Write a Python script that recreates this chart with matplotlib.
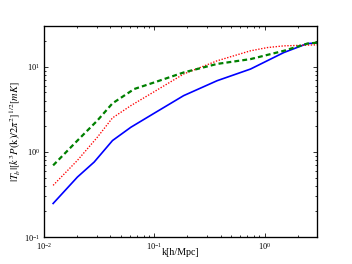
import matplotlib
matplotlib.use("Agg")
import matplotlib.pyplot as plt

plt.rcParams['font.family'] = ['Liberation Serif', 'DejaVu Serif']
plt.rcParams['mathtext.fontset'] = 'stix'

k_blue = [0.0121, 0.0201, 0.0285, 0.0418, 0.0614, 0.1, 0.1846, 0.3715, 0.746, 1.497, 2.44, 3.01]
v_blue = [0.248, 0.507, 0.760, 1.36, 1.95, 2.85, 4.58, 6.86, 9.40, 14.7, 18.7, 19.1]

k_red = [0.0121, 0.0201, 0.0305, 0.0418, 0.0614, 0.1, 0.1846, 0.3715, 0.746, 1.059, 1.497, 3.01]
v_red = [0.405, 0.796, 1.49, 2.51, 3.50, 5.1, 8.22, 11.75, 15.4, 16.8, 17.6, 18.1]

k_green = [0.0121, 0.0201, 0.0305, 0.0418, 0.0658, 0.1, 0.1846, 0.3715, 0.746, 1.497, 2.44, 3.01]
v_green = [0.695, 1.36, 2.34, 3.72, 5.48, 6.55, 8.57, 10.8, 12.3, 15.4, 18.7, 19.2]

fig = plt.figure(figsize=(4.4, 3.3), dpi=80)
ax = fig.add_axes([0.125, 0.102, 0.776, 0.799])
ax.plot(k_blue, v_blue, color='blue', ls='-', lw=1.5)
ax.plot(k_red, v_red, color='red', ls=(0, (1, 1.2)), lw=1.2)
ax.plot(k_green, v_green, color='green', ls=(0, (2.2, 1.4)), lw=2.0)
ax.set_xscale('log')
ax.set_yscale('log')
ax.set_xlim(0.01, 3.0)
ax.set_ylim(0.1, 30)
for s in ax.spines.values():
    s.set_linewidth(1.2)
ax.tick_params(which='both', direction='in', top=True, right=True, labelsize=7.5, width=0.7)
ax.tick_params(which='major', length=4)
ax.tick_params(which='minor', length=2)
ax.set_xlabel('k[h/Mpc]', fontsize=9)
ax.set_ylabel(r'$|T_b|[k^3P(\mathrm{k})/2\pi^2]^{1/2}[mK]$', fontsize=9.5)
ax.xaxis.set_label_coords(0.5, -0.052)
ax.yaxis.set_label_coords(-0.077, 0.5)
fig.savefig('out.png', dpi=80)
